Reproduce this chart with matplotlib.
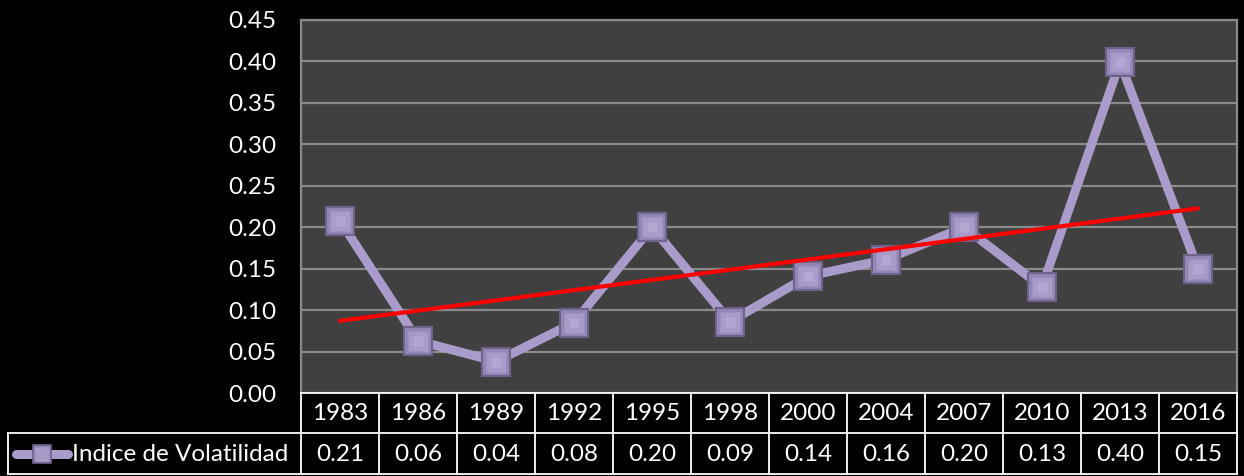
import numpy as np
import matplotlib
matplotlib.use("Agg")
import matplotlib.pyplot as plt

# ---- data ----
years = ["1983", "1986", "1989", "1992", "1995", "1998", "2000", "2004", "2007", "2010", "2013", "2016"]
values = [0.208, 0.063, 0.038, 0.085, 0.200, 0.086, 0.141, 0.161, 0.200, 0.128, 0.399, 0.150]
value_labels = ["0.21", "0.06", "0.04", "0.08", "0.20", "0.09", "0.14", "0.16", "0.20", "0.13", "0.40", "0.15"]
series_name = "Indice de Volatilidad"
y_ticks = [0.00, 0.05, 0.10, 0.15, 0.20, 0.25, 0.30, 0.35, 0.40, 0.45]

W, H = 1244, 476
FONT = "Lato"
FS = 17.5
LINE_C = "#a99ccb"
FACE_C = "#9486b6"
EDGE_C = "#6f6389"
INNER_C = "#a89ac9"
HI_C = "#c9bfe6"

fig = plt.figure(figsize=(W / 100, H / 100), dpi=100, facecolor="black")

# main plot area in pixel geometry
L, R, T, B = 301, 1237, 20, 393
ax = fig.add_axes([L / W, 1 - B / H, (R - L) / W, (B - T) / H])
ax.set_facecolor("#404040")
x = np.arange(1, len(years) + 1)
ax.set_xlim(0.5, len(years) + 0.5)
ax.set_ylim(0, 0.45)
ax.set_yticks(y_ticks)
ax.set_yticklabels([f"{t:.2f}" for t in y_ticks], fontsize=FS, family=FONT, color="white")
ax.set_xticks([])
ax.tick_params(axis="y", length=0, pad=18)
for t in y_ticks:
    ax.axhline(t, color="#8a8a8a", lw=1.6, zorder=1)
for s in ["left", "top", "right"]:
    ax.spines[s].set_color("#8a8a8a")
    ax.spines[s].set_linewidth(1.6)
ax.spines["bottom"].set_visible(False)

ax.plot(x, values, color=LINE_C, lw=6.5, zorder=3, solid_joinstyle="miter")
ax.plot(x, values, ls="none", marker="s", ms=19.5, mfc=FACE_C, mec=EDGE_C, mew=1.5, zorder=4)
ax.plot(x, values, ls="none", marker="s", ms=14, mfc=INNER_C, mec="none", zorder=5)
ax.plot(x, values, ls="none", marker="s", ms=7, mfc=HI_C, mec="none", alpha=0.35, zorder=6)

# linear trend line
coef = np.polyfit(x, values, 1)
xt = np.array([x[0], x[-1]], dtype=float)
ax.plot(xt, np.polyval(coef, xt), color="#ff0000", lw=3, zorder=7, solid_capstyle="round")

# ---- data table ----
tab = fig.add_axes([0, 0, 1, 1])
tab.set_xlim(0, W)
tab.set_ylim(H, 0)
tab.axis("off")
tab.patch.set_alpha(0)
n = len(years)
cw = (R - L) / n
r1, r2, r3 = B, 433, 474
lx = 8
lc = "white"
lw = 1.3
tab.plot([L, R], [r1, r1], color=lc, lw=lw)
tab.plot([lx, R], [r2, r2], color=lc, lw=lw)
tab.plot([lx, R], [r3, r3], color=lc, lw=lw)
tab.plot([lx, lx], [r2, r3], color=lc, lw=lw)
for i in range(n + 1):
    xx = L + i * cw
    tab.plot([xx, xx], [r1, r3], color=lc, lw=lw)
for i in range(n):
    cx = L + (i + 0.5) * cw
    tab.text(cx, (r1 + r2) / 2 + 1, years[i], ha="center", va="center", color="white",
             fontsize=FS, family=FONT)
    tab.text(cx, (r2 + r3) / 2 + 1, value_labels[i], ha="center", va="center", color="white",
             fontsize=FS, family=FONT)
# legend key
ky = (r2 + r3) / 2
tab.plot([16, 68], [ky, ky], color=LINE_C, lw=6.5, solid_capstyle="round")
tab.plot([42], [ky], marker="s", ms=13.5, mfc=FACE_C, mec=EDGE_C, mew=1.2)
tab.plot([42], [ky], marker="s", ms=9.5, mfc=INNER_C, mec="none")
tab.text(72, ky + 1, series_name, ha="left", va="center", color="white", fontsize=FS, family=FONT)

fig.savefig("out.png", dpi=100, facecolor="black")
